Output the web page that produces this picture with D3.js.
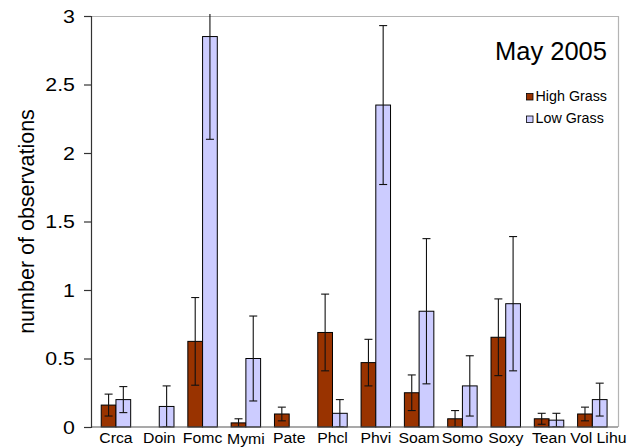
<!DOCTYPE html>
<html>
<head>
<meta charset="utf-8">
<script src="https://cdn.jsdelivr.net/npm/d3@7/dist/d3.min.js"></script>
<style>
  html, body { margin: 0; padding: 0; background: #fff; }
  svg { display: block; font-family: "Liberation Sans", Arial, sans-serif; }
</style>
</head>
<body>
<svg id="chart" width="632" height="447"></svg>
<script>
// Species codes along the category axis
const categories = ["Crca", "Doin", "Fomc", "Mymi", "Pate", "Phcl", "Phvi", "Soam", "Somo", "Soxy", "Tean", "Vol Lihu"];
// Mean number of observations per species and standard errors
const highGrass    = [0.16, 0,    0.625, 0.03, 0.095, 0.69, 0.47, 0.25,  0.06, 0.655, 0.06, 0.095];
const highGrassErr = [0.08, 0,    0.32,  0.03, 0.05,  0.28, 0.17, 0.13,  0.06, 0.28,  0.04, 0.05];
const lowGrass     = [0.2,  0.15, 2.85,  0.5,  0,     0.1,  2.35, 0.845, 0.3,  0.9,   0.05, 0.2];
const lowGrassErr  = [0.095,0.15, 0.75,  0.31, 0,     0.1,  0.58, 0.53,  0.22, 0.49,  0.05, 0.12];
const seriesNames  = ["High Grass", "Low Grass"];
const yTicks       = [0, 0.5, 1, 1.5, 2, 2.5, 3];

const colors = { "High Grass": "#993300", "Low Grass": "#CCCCFF" };

const svg = d3.select("#chart");
const plot = { left: 91, right: 618, top: 16, bottom: 427 };

const x = d3.scaleBand().domain(categories).range([94.3, 614]).paddingInner(0).paddingOuter(0);
const barW = x.bandwidth() * 0.34;
const y = d3.scaleLinear().domain([0, 3]).range([plot.bottom, plot.top]);

// Helper: horizontally stretched text
function placeText(sel, px, py, sx) {
  return sel.attr("transform", `translate(${px},${py}) scale(${sx},1)`);
}

// Plot-area border (top and right)
svg.append("path")
  .attr("d", `M${plot.left},${plot.top + 0.5}H${plot.right + 0.5}V${plot.bottom}`)
  .attr("fill", "none").attr("stroke", "#b4b4b4").attr("stroke-width", 1.2);

// Clip so long error bars stop at the top of the plot
svg.append("clipPath").attr("id", "plotClip")
  .append("rect").attr("x", plot.left).attr("y", plot.top - 2)
  .attr("width", plot.right - plot.left).attr("height", plot.bottom - plot.top + 2);

const rows = categories.map((c, i) => ({
  cat: c,
  bars: [
    { s: "High Grass", v: highGrass[i], e: highGrassErr[i], k: 0 },
    { s: "Low Grass",  v: lowGrass[i],  e: lowGrassErr[i],  k: 1 }
  ]
}));

const groups = svg.append("g").selectAll("g").data(rows).join("g");
const center = d => x(d.cat) + x.bandwidth() / 2;

// Bars
groups.each(function(row) {
  const g = d3.select(this);
  const cx = center(row);
  row.bars.filter(b => b.v > 0).forEach(b => {
    const bx = b.k === 0 ? cx - barW : cx;
    g.append("rect")
      .attr("x", bx).attr("y", y(b.v))
      .attr("width", barW).attr("height", y(0) - y(b.v))
      .attr("fill", colors[b.s]).attr("stroke", "#000").attr("stroke-width", 1);
  });
});

// Error bars
const errG = svg.append("g").attr("clip-path", "url(#plotClip)");
rows.forEach(row => {
  const cx = center(row);
  row.bars.filter(b => b.v > 0).forEach(b => {
    const mx = (b.k === 0 ? cx - barW / 2 : cx + barW / 2);
    const hi = b.v + b.e, lo = Math.max(0, b.v - b.e);
    errG.append("line").attr("x1", mx).attr("x2", mx).attr("y1", y(hi)).attr("y2", y(lo))
      .attr("stroke", "#111").attr("stroke-width", 1.1);
    [hi, lo].forEach(t => {
      errG.append("line").attr("x1", mx - 4).attr("x2", mx + 4).attr("y1", y(t)).attr("y2", y(t))
        .attr("stroke", "#111").attr("stroke-width", 1.1);
    });
  });
});

// Category axis line
svg.append("line").attr("x1", plot.left).attr("x2", plot.right).attr("y1", plot.bottom).attr("y2", plot.bottom)
  .attr("stroke", "#555").attr("stroke-width", 1.2);

// Value axis
const yAxis = d3.axisLeft(y).tickValues(yTicks).tickSize(7).tickPadding(9).tickFormat(d3.format("~g"));
const yg = svg.append("g").attr("transform", `translate(${plot.left},0)`).call(yAxis);
yg.select(".domain").attr("stroke", "#333").attr("stroke-width", 1.2);
yg.selectAll(".tick line").attr("stroke", "#333").attr("stroke-width", 1.2);
yg.selectAll(".tick text").each(function(d) {
  d3.select(this).attr("x", null).attr("dy", null)
    .attr("font-size", 17.5).attr("fill", "#000").attr("text-anchor", "end")
    .attr("dominant-baseline", "central");
  placeText(d3.select(this), -16, 0, 1.22);
});

// Category labels (Mymi sits a touch lower, as in the staggered axis)
const labelDrop = { "Mymi": 1 };
svg.append("g").selectAll("text").data(categories).join("text")
  .text(d => d)
  .attr("font-size", 15.5).attr("text-anchor", "middle").attr("fill", "#000")
  .each(function(d) {
    const shift = d === "Vol Lihu" ? 6 : 0;
    placeText(d3.select(this), x(d) + x.bandwidth() / 2 + shift, 443 + (labelDrop[d] || 0), 1.02);
  });

// Axis title
svg.append("text").text("number of observations")
  .attr("font-size", 21.5).attr("text-anchor", "middle").attr("fill", "#000")
  .attr("transform", `translate(34,${(plot.top + plot.bottom) / 2}) rotate(-90)`);

// Chart title
svg.append("text").text("May 2005")
  .attr("x", 607).attr("y", 60).attr("font-size", 25.5).attr("text-anchor", "end").attr("fill", "#000");

// Legend
const leg = svg.append("g");
seriesNames.forEach((s, i) => {
  const ly = 100.5 + i * 22.5;
  leg.append("rect").attr("x", 526.5).attr("y", ly - 7).attr("width", 6.5).attr("height", 6.5)
    .attr("fill", colors[s]).attr("stroke", "#000").attr("stroke-width", 0.8);
  leg.append("text").text(s).attr("x", 535.5).attr("y", ly)
    .attr("font-size", 14.3).attr("fill", "#000");
});
</script>
</body>
</html>
